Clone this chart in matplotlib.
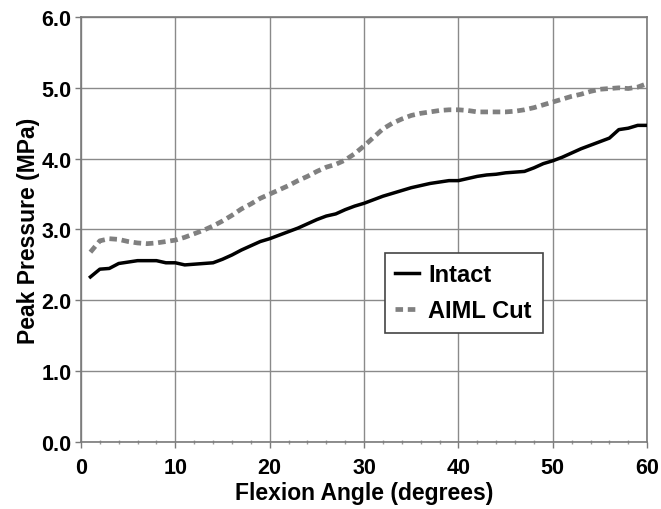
import numpy as np
import matplotlib.pyplot as plt
from matplotlib.ticker import MultipleLocator, FormatStrFormatter

plt.rcParams['font.family'] = ['Liberation Sans', 'DejaVu Sans']
plt.rcParams['font.weight'] = 'bold'

# peak pressure (MPa) at each flexion angle, 1..60 degrees
angle = np.arange(1, 61)
intact = [2.33, 2.44, 2.45, 2.52, 2.54, 2.56, 2.56, 2.56, 2.53, 2.53,
          2.50, 2.51, 2.52, 2.53, 2.58, 2.64, 2.71, 2.77, 2.83, 2.87,
          2.92, 2.97, 3.02, 3.08, 3.14, 3.19, 3.22, 3.28, 3.33, 3.37,
          3.42, 3.47, 3.51, 3.55, 3.59, 3.62, 3.65, 3.67, 3.69, 3.69,
          3.72, 3.75, 3.77, 3.78, 3.80, 3.81, 3.82, 3.87, 3.93, 3.97,
          4.02, 4.08, 4.14, 4.19, 4.24, 4.29, 4.41, 4.43, 4.47, 4.47]
aiml_cut = [2.68, 2.84, 2.87, 2.86, 2.83, 2.81, 2.80, 2.81, 2.83, 2.85,
            2.89, 2.94, 2.99, 3.05, 3.12, 3.20, 3.29, 3.36, 3.44, 3.50,
            3.56, 3.62, 3.69, 3.75, 3.82, 3.88, 3.92, 3.98, 4.07, 4.18,
            4.30, 4.42, 4.50, 4.56, 4.61, 4.64, 4.66, 4.68, 4.69, 4.69,
            4.68, 4.66, 4.66, 4.66, 4.66, 4.67, 4.69, 4.72, 4.76, 4.80,
            4.84, 4.88, 4.91, 4.95, 4.98, 4.99, 5.00, 4.99, 5.01, 5.06]

fig = plt.figure(figsize=(6.61, 5.10), dpi=100)
ax = fig.add_axes([0.1225, 0.1314, 0.8565, 0.8333])

ax.plot(angle, intact, color='black', lw=2.5, label='Intact', zorder=3)
ax.plot(angle, aiml_cut, color='#808080', lw=3.4, dashes=(1.6, 1.0),
        label='AIML Cut', zorder=3)

ax.set_xlim(0, 60)
ax.set_ylim(0, 6)
ax.xaxis.set_major_locator(MultipleLocator(10))
ax.xaxis.set_minor_locator(MultipleLocator(2))
ax.yaxis.set_major_locator(MultipleLocator(1))
ax.yaxis.set_major_formatter(FormatStrFormatter('%.1f'))
ax.grid(True, which='major', color='#8a8a8a', lw=1)
ax.set_axisbelow(True)
for s in ax.spines.values():
    s.set_color('#7a7a7a')
    s.set_linewidth(1.2)
ax.tick_params(which='major', length=4, width=1, color='#7a7a7a',
               labelsize=15.5)
ax.tick_params(axis='y', pad=3)
ax.tick_params(axis='x', pad=7)
ax.tick_params(which='minor', axis='x', length=3, width=1, color='#9a9a9a',
               direction='inout')

ax.set_xlabel('Flexion Angle (degrees)', fontsize=16.5, fontweight='bold', labelpad=2)
ax.set_ylabel('Peak Pressure (MPa)', fontsize=16.5, fontweight='bold', labelpad=1)

leg = ax.legend(loc='upper left', bbox_to_anchor=(32.2 / 60, 2.67 / 6),
                fontsize=17, frameon=True, fancybox=False, handlelength=1.0,
                borderpad=0.45, labelspacing=0.55, handletextpad=0.4,
                borderaxespad=0)
leg.get_frame().set_edgecolor('#444444')
leg.get_frame().set_linewidth(1.2)
leg.get_frame().set_alpha(1)

fig.savefig('out.png', dpi=100)
